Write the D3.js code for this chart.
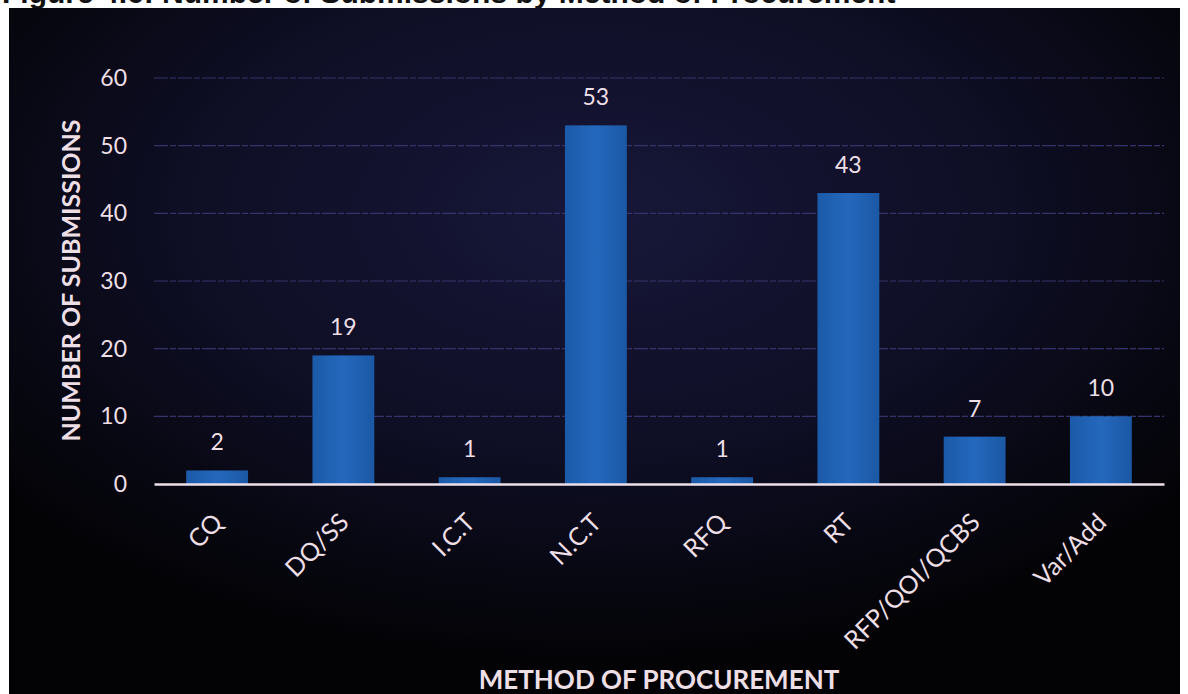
<!DOCTYPE html>
<html>
<head>
<meta charset="utf-8">
<script src="https://cdn.jsdelivr.net/npm/d3@7"></script>
<style>
  body { margin: 0; background: #fff; }
  svg { display: block; }
</style>
</head>
<body>
<svg id="drawing_region"></svg>
<script>
// values
const categories = ['CQ', 'DQ/SS', 'I.C.T', 'N.C.T', 'RFQ', 'RT', 'RFP/QOI/QCBS', 'Var/Add'];
const submissions = [2, 19, 1, 53, 1, 43, 7, 10];
const yTicks = [0, 10, 20, 30, 40, 50, 60];

const W = 1188, H = 694;
const margin = {top: 78, left: 154};
const plotW = 1010, plotH = 406;
const font = 'Lato, Calibri, "Open Sans", sans-serif';
const txt = '#eedfe6';

const svg = d3.select('#drawing_region')
    .attr('width', W)
    .attr('height', H);

const defs = svg.append('defs');

// dark navy panel, lighter in the middle
const bg = defs.append('radialGradient').attr('id', 'bg')
    .attr('cx', '50%').attr('cy', '30%').attr('r', '65%');
bg.append('stop').attr('offset', '0%').attr('stop-color', '#17173a');
bg.append('stop').attr('offset', '55%').attr('stop-color', '#0e0e24');
bg.append('stop').attr('offset', '100%').attr('stop-color', '#030306');

const barGrad = defs.append('linearGradient').attr('id', 'bar')
    .attr('x1', '0%').attr('x2', '100%').attr('y1', '0%').attr('y2', '0%');
barGrad.append('stop').attr('offset', '0%').attr('stop-color', '#1b5aa8');
barGrad.append('stop').attr('offset', '50%').attr('stop-color', '#2468bd');
barGrad.append('stop').attr('offset', '100%').attr('stop-color', '#1b58a4');

// caption of the figure, mostly hidden behind the panel as in the scan
svg.append('text')
    .attr('x', 2)
    .attr('y', 3)
    .attr('font-family', '"Liberation Sans", Arial, sans-serif')
    .attr('font-weight', 'bold')
    .attr('font-size', 30)
    .attr('fill', '#111')
    .text('Figure 4.6: Number of Submissions by Method of Procurement');

svg.append('rect')
    .attr('x', 9).attr('y', 8)
    .attr('width', W - 9 - 8).attr('height', H - 8)
    .attr('fill', 'url(#bg)');

const chart = svg.append('g')
    .attr('transform', `translate(${margin.left}, ${margin.top})`);

const xscale = d3.scaleBand()
    .domain(categories)
    .range([0, plotW])
    .paddingInner(0.51)
    .paddingOuter(0.255);

const yscale = d3.scaleLinear()
    .domain([0, 60])
    .range([plotH, 0]);

// gridlines
chart.append('g')
    .selectAll('line')
    .data(yTicks.filter(d => d > 0))
    .join('line')
    .attr('x1', 0)
    .attr('x2', plotW)
    .attr('y1', d => yscale(d))
    .attr('y2', d => yscale(d))
    .attr('stroke', '#34346a')
    .attr('stroke-width', 1.2)
    .attr('stroke-dasharray', '14 2 6 2');

// y axis labels
const yaxis = d3.axisLeft(yscale)
    .tickValues(yTicks)
    .tickSize(0)
    .tickPadding(27);

const yaxis_group = chart.append('g').call(yaxis);
yaxis_group.select('.domain').remove();
yaxis_group.selectAll('text')
    .attr('font-family', font)
    .attr('font-size', 23)
    .attr('fill', txt);

// bars
chart.selectAll('rect.bar')
    .data(submissions)
    .join('rect')
    .attr('class', 'bar')
    .attr('x', (d, i) => xscale(categories[i]))
    .attr('y', d => yscale(d))
    .attr('width', xscale.bandwidth())
    .attr('height', d => plotH - yscale(d))
    .attr('fill', 'url(#bar)');

// value labels
chart.selectAll('text.value')
    .data(submissions)
    .join('text')
    .attr('class', 'value')
    .attr('x', (d, i) => xscale(categories[i]) + xscale.bandwidth() / 2)
    .attr('y', d => yscale(d) - 20)
    .attr('text-anchor', 'middle')
    .attr('font-family', font)
    .attr('font-size', 23)
    .attr('fill', txt)
    .text(d => d);

// x axis
const xaxis = d3.axisBottom(xscale)
    .tickSize(0)
    .tickSizeOuter(0);

const xaxis_group = chart.append('g')
    .attr('transform', `translate(0, ${plotH})`)
    .call(xaxis);
xaxis_group.select('.domain')
    .attr('stroke', '#ece0ea')
    .attr('stroke-width', 2.5);
xaxis_group.selectAll('text')
    .attr('font-family', font)
    .attr('font-size', 25)
    .attr('fill', txt)
    .attr('text-anchor', 'end')
    .attr('x', 0)
    .attr('y', 0)
    .attr('dy', 0)
    .attr('transform', 'translate(7, 40) rotate(-45)');

// axis titles
svg.append('text')
    .attr('transform', `translate(80, ${(118 + 443) / 2}) rotate(-90)`)
    .attr('text-anchor', 'middle')
    .attr('font-family', font)
    .attr('font-weight', 'bold')
    .attr('font-size', 25)
    .attr('fill', txt)
    .text('NUMBER OF SUBMISSIONS');

svg.append('text')
    .attr('x', margin.left + plotW / 2)
    .attr('y', 689)
    .attr('text-anchor', 'middle')
    .attr('font-family', font)
    .attr('font-weight', 'bold')
    .attr('font-size', 26)
    .attr('fill', txt)
    .text('METHOD OF PROCUREMENT');
</script>
</body>
</html>
